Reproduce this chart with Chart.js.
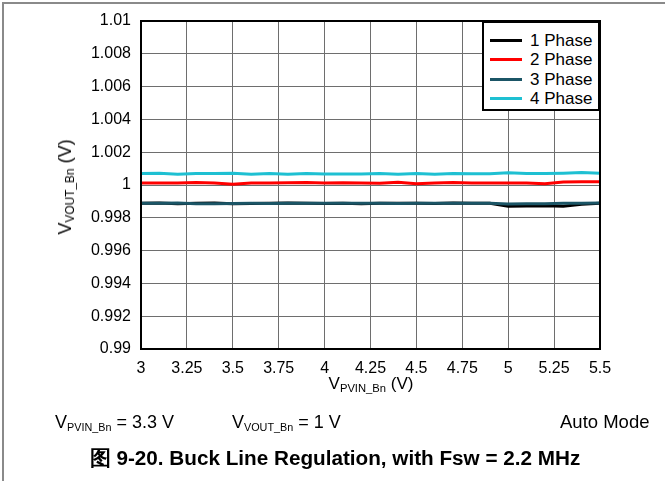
<!DOCTYPE html>
<html>
<head>
<meta charset="utf-8">
<script src="https://cdn.jsdelivr.net/npm/chart.js@4.4.1/dist/chart.umd.min.js"></script>
<style>
  html, body { margin: 0; padding: 0; background: #fff; }
  body { width: 665px; height: 481px; position: relative; overflow: hidden; font-family: "Liberation Sans", Arial, sans-serif; color: #000; }
  #frame { position: absolute; left: 2px; top: 2px; width: 670px; height: 490px; border-left: 2px solid #8a8a8a; border-top: 2px solid #8a8a8a; }
  canvas { position: absolute; left: 0; top: 0; }
  .t { position: absolute; white-space: nowrap; line-height: 1; }
  .t sub { font-size: 66%; vertical-align: -0.28em; line-height: 0; }
  .b sub { font-size: 60%; }
  #xtitle { left: 371px; top: 375px; transform: translateX(-50%); font-size: 17px; }
  #ytitle { left: 65px; top: 187px; transform: translate(-50%, -50%) rotate(-90deg); font-size: 18px; }
  #legend { position: absolute; left: 482px; top: 21px; width: 114px; height: 86px; border: 2px solid #000; background: #fff; }
  .li { position: absolute; left: 6px; height: 19px; font-size: 17px; line-height: 19px; }
  .li i { position: absolute; left: 0; top: 8px; width: 32px; height: 3px; }
  .li span { position: absolute; left: 40px; top: 0; white-space: nowrap; }
  #c1 { left: 55px; top: 413px; font-size: 18px; }
  #c2 { left: 232px; top: 413px; font-size: 18px; }
  #c3 { left: 560px; top: 413px; font-size: 18.5px; }
  #cap { left: 335px; top: 448px; transform: translateX(-50%); font-size: 20.7px; font-weight: bold; }
</style>
</head>
<body>
<div id="frame"></div>
<canvas id="chart" width="665" height="481"></canvas>
<div class="t" id="xtitle">V<sub>PVIN_Bn</sub> (V)</div>
<div class="t" id="ytitle">V<sub>VOUT_Bn</sub> (V)</div>
<div id="legend"></div>
<div class="t b" id="c1">V<sub>PVIN_Bn</sub> = 3.3 V</div>
<div class="t b" id="c2">V<sub>VOUT_Bn</sub> = 1 V</div>
<div class="t" id="c3">Auto Mode</div>
<div class="t" id="cap">图 9-20. Buck Line Regulation, with Fsw = 2.2 MHz</div>
<script>
// ---- data ----
const seriesNames = ["1 Phase", "2 Phase", "3 Phase", "4 Phase"];
const seriesColors = ["#000000", "#ff0000", "#1b5566", "#1ec0d2"];
const xValues = [3.0, 3.1, 3.2, 3.3, 3.4, 3.5, 3.6, 3.7, 3.8, 3.9, 4.0, 4.1, 4.2, 4.3, 4.4, 4.5, 4.6, 4.7, 4.8, 4.9, 5.0, 5.1, 5.2, 5.3, 5.4, 5.5];
const phase1 = [0.99888, 0.9989, 0.99886, 0.99888, 0.9989, 0.99886, 0.99887, 0.99888, 0.9989, 0.99888, 0.99887, 0.99888, 0.99886, 0.99888, 0.99889, 0.99888, 0.99887, 0.9989, 0.99888, 0.99888, 0.9987, 0.99872, 0.99874, 0.9987, 0.99882, 0.99888];
const phase2 = [1.00012, 1.00012, 1.00012, 1.00016, 1.00012, 1.00004, 1.00012, 1.00012, 1.00014, 1.00015, 1.00012, 1.00014, 1.00012, 1.0001, 1.00016, 1.00008, 1.00012, 1.00015, 1.00012, 1.00012, 1.00012, 1.00012, 1.00008, 1.00018, 1.0002, 1.0002];
const phase3 = [0.99888, 0.99888, 0.9989, 0.99886, 0.99886, 0.99887, 0.99888, 0.99887, 0.99888, 0.99888, 0.99888, 0.99888, 0.99889, 0.99888, 0.99887, 0.99888, 0.99888, 0.99888, 0.99889, 0.99888, 0.99884, 0.99886, 0.99886, 0.99888, 0.99888, 0.9989];
const phase4 = [1.0007, 1.00072, 1.00066, 1.0007, 1.0007, 1.00071, 1.00066, 1.0007, 1.00066, 1.0007, 1.00067, 1.00067, 1.00067, 1.0007, 1.00066, 1.0007, 1.00066, 1.0007, 1.00068, 1.00068, 1.00075, 1.0007, 1.0007, 1.00072, 1.00076, 1.00072];
const xTicks = [3, 3.25, 3.5, 3.75, 4, 4.25, 4.5, 4.75, 5, 5.25, 5.5];
const xTickLabels = ["3", "3.25", "3.5", "3.75", "4", "4.25", "4.5", "4.75", "5", "5.25", "5.5"];
const yTicks = [0.99, 0.992, 0.994, 0.996, 0.998, 1, 1.002, 1.004, 1.006, 1.008, 1.01];
const yTickLabels = ["0.99", "0.992", "0.994", "0.996", "0.998", "1", "1.002", "1.004", "1.006", "1.008", "1.01"];

const allSeries = [phase1, phase2, phase3, phase4];
const drawOrder = [2, 3, 1, 0];

const datasets = allSeries.map((vals, i) => ({
  label: seriesNames[i],
  data: xValues.map((x, j) => ({ x: x, y: vals[j] })),
  borderColor: seriesColors[i],
  backgroundColor: seriesColors[i],
  borderWidth: 3,
  pointRadius: 0,
  tension: 0,
  order: drawOrder[i]
}));

// legend (HTML, built from the series)
const legend = document.getElementById('legend');
seriesNames.forEach((n, i) => {
  const d = document.createElement('div');
  d.className = 'li';
  d.style.top = (8 + i * 19.3) + 'px';
  d.innerHTML = '<i style="background:' + seriesColors[i] + '"></i><span>' + n + '</span>';
  legend.appendChild(d);
});

const frameBorder = {
  id: 'frameBorder',
  afterDatasetsDraw(chart) {
    const a = chart.chartArea, ctx = chart.ctx;
    ctx.save();
    ctx.strokeStyle = '#000';
    ctx.lineWidth = 2;
    ctx.strokeRect(a.left, a.top, a.right - a.left, a.bottom - a.top);
    ctx.restore();
  }
};

const tickFont = { family: '"Liberation Sans", Arial, sans-serif', size: 16 };

new Chart(document.getElementById('chart'), {
  type: 'line',
  data: { datasets: datasets },
  options: {
    responsive: false,
    animation: false,
    layout: { padding: { left: 0, right: 65, top: 21, bottom: 72 } },
    plugins: { legend: { display: false }, tooltip: { enabled: false } },
    scales: {
      x: {
        type: 'linear',
        min: 3, max: 5.5,
        afterBuildTicks: s => { s.ticks = xTicks.map(v => ({ value: v })); },
        afterFit: s => { s.height = 60; },
        ticks: { color: '#000', font: tickFont, padding: 10, maxRotation: 0, autoSkip: false,
          callback: (v) => { const k = xTicks.findIndex(t => Math.abs(t - v) < 1e-9); return k >= 0 ? xTickLabels[k] : ''; } },
        grid: { color: '#6e6e6e', lineWidth: 1, drawTicks: false },
        border: { display: false }
      },
      y: {
        type: 'linear',
        min: 0.99, max: 1.01,
        afterBuildTicks: s => { s.ticks = yTicks.map(v => ({ value: v })); },
        afterFit: s => { s.width = 141; },
        ticks: { color: '#000', font: tickFont, padding: 10, autoSkip: false,
          callback: (v) => { const k = yTicks.findIndex(t => Math.abs(t - v) < 1e-9); return k >= 0 ? yTickLabels[k] : ''; } },
        grid: { color: '#6e6e6e', lineWidth: 1, drawTicks: false },
        border: { display: false }
      }
    }
  },
  plugins: [frameBorder]
});
</script>
</body>
</html>
